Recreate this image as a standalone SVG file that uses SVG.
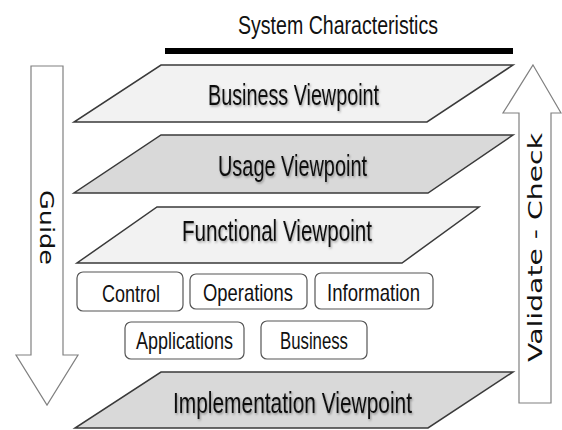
<svg xmlns="http://www.w3.org/2000/svg" width="562" height="430" viewBox="0 0 562 430">
<defs>
<filter id="sh" x="-10%" y="-30%" width="120%" height="160%">
<feDropShadow dx="1" dy="1.5" stdDeviation="1" flood-color="#000" flood-opacity="0.35"/>
</filter>
</defs>
<style>
.vp{stroke:#3a3a3a;stroke-width:1.5;}
.light{fill:#f2f2f2;}
.dark{fill:#d9d9d9;}
.vt{font-family:"Liberation Sans",Arial,sans-serif;font-size:29px;fill:#111;text-anchor:middle;}
.box{fill:#fff;stroke:#555;stroke-width:1.2;}
.bt{font-family:"Liberation Sans",Arial,sans-serif;font-size:24px;fill:#111;text-anchor:middle;}
.arr{fill:#fff;stroke:#808080;stroke-width:1.2;}
.at{font-family:"DejaVu Sans",Verdana,sans-serif;font-size:19px;fill:#111;text-anchor:middle;}
</style>
<rect width="562" height="430" fill="#fff"/>
<g id="title">
<text x="338" y="34" font-family="'Liberation Sans',Arial,sans-serif" font-size="26" fill="#111" text-anchor="middle" textLength="200" lengthAdjust="spacingAndGlyphs">System Characteristics</text>
<rect x="165" y="48" width="348" height="6" fill="#000"/>
</g>
<g id="guide">
<polygon class="arr" points="31,66 63,66 63,355 78,355 47,405 16,355 31,355"/>
<text class="at" transform="translate(47,227.5) rotate(90)" x="0" y="7" textLength="75" lengthAdjust="spacingAndGlyphs">Guide</text>
</g>
<g id="validate">
<polygon class="arr" points="533,65 561,113 551,113 551,403 519,403 519,113 503,113"/>
<text class="at" transform="translate(535,247.5) rotate(-90)" x="0" y="7" textLength="229" lengthAdjust="spacingAndGlyphs">Validate - Check</text>
</g>
<g id="business-viewpoint">
<polygon class="vp light" points="161,65 513,65 427,122 74,122"/>
<text class="vt" x="293.5" y="105" textLength="171" lengthAdjust="spacingAndGlyphs" filter="url(#sh)">Business Viewpoint</text>
</g>
<g id="usage-viewpoint">
<polygon class="vp dark" points="161,135 513,135 428,193 74,193"/>
<text class="vt" x="292.5" y="176" textLength="149" lengthAdjust="spacingAndGlyphs" filter="url(#sh)">Usage Viewpoint</text>
</g>
<g id="functional-viewpoint">
<polygon class="vp light" points="157,207 479,207 402,263 77,263"/>
<text class="vt" x="277" y="241" textLength="190" lengthAdjust="spacingAndGlyphs" filter="url(#sh)">Functional Viewpoint</text>
</g>
<g id="implementation-viewpoint">
<polygon class="vp dark" points="161,372 513,372 428,428 75,428"/>
<text class="vt" x="292.5" y="413" textLength="239" lengthAdjust="spacingAndGlyphs" filter="url(#sh)">Implementation Viewpoint</text>
</g>
<g id="control">
<rect class="box" x="77" y="272" width="106" height="39" rx="6"/>
<text class="bt" x="131" y="302" textLength="58" lengthAdjust="spacingAndGlyphs">Control</text>
</g>
<g id="operations">
<rect class="box" x="190" y="274" width="117" height="35" rx="6"/>
<text class="bt" x="248" y="301" textLength="90" lengthAdjust="spacingAndGlyphs">Operations</text>
</g>
<g id="information">
<rect class="box" x="315" y="273" width="118" height="36" rx="6"/>
<text class="bt" x="373.5" y="301" textLength="93" lengthAdjust="spacingAndGlyphs">Information</text>
</g>
<g id="applications">
<rect class="box" x="125" y="322" width="119" height="37" rx="6"/>
<text class="bt" x="184.5" y="349" textLength="97" lengthAdjust="spacingAndGlyphs">Applications</text>
</g>
<g id="business">
<rect class="box" x="261" y="321" width="106" height="38" rx="6"/>
<text class="bt" x="314" y="349" textLength="68" lengthAdjust="spacingAndGlyphs">Business</text>
</g>
<g id="connectors"></g>
</svg>
